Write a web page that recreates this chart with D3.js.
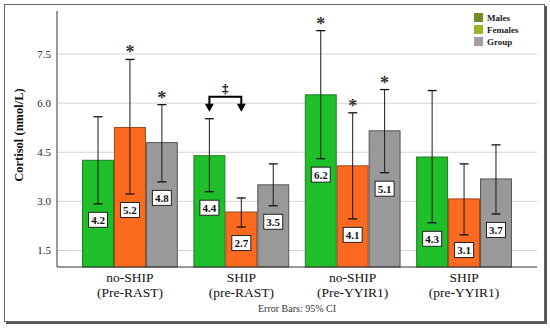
<!DOCTYPE html>
<html>
<head>
<meta charset="utf-8">
<script src="https://cdn.jsdelivr.net/npm/d3@7"></script>
<style>
  html, body { margin: 0; padding: 0; background: #fff; }
  svg { display: block; font-family: 'Liberation Serif', 'DejaVu Serif', serif; }
</style>
</head>
<body>
<div id="chart"></div>
<script>
const groupLine1 = ['no-SHIP', 'SHIP', 'no-SHIP', 'SHIP'];
const groupLine2 = ['(Pre-RAST)', '(pre-RAST)', '(Pre-YYIR1)', '(pre-YYIR1)'];
const series = ['Males', 'Females', 'Group'];

// means per series, one value per group
const malesMean = [4.24, 4.38, 6.24, 4.34];
const femalesMean = [5.24, 2.66, 4.07, 3.06];
const groupMean = [4.78, 3.49, 5.14, 3.67];

// 95% CI ends
const malesLo = [2.91, 3.28, 4.29, 2.33];
const malesHi = [5.57, 5.51, 8.2, 6.37];
const femalesLo = [3.21, 2.2, 2.45, 1.96];
const femalesHi = [7.32, 3.09, 5.69, 4.13];
const groupLo = [3.58, 2.85, 3.86, 2.6];
const groupHi = [5.94, 4.13, 6.4, 4.71];

// significance stars
const malesStar = [0, 0, 1, 0];
const femalesStar = [1, 0, 1, 0];
const groupStar = [1, 0, 1, 0];

const yTicks = [1.5, 3.0, 4.5, 6.0, 7.5];

// bracket between two bars of one group
const bracketGroup = 1;
const bracketFrom = 'Males';
const bracketTo = 'Females';
const bracketSymbol = '\u2021';

const barFill = { Males: '#1fbf2a', Females: '#fb6a1e', Group: '#999999' };
const barStroke = { Males: '#1d7d22', Females: '#a4461a', Group: '#555555' };
const legendFill = { Males: '#6f8b2b', Females: '#9bb52c', Group: '#a79ca6' };

const W = 550, H = 330;
const margin = { top: 11, right: 13, bottom: 63, left: 57 };
const width = W - margin.left - margin.right;
const height = H - margin.top - margin.bottom;

const means = [malesMean, femalesMean, groupMean];
const los = [malesLo, femalesLo, groupLo];
const his = [malesHi, femalesHi, groupHi];
const stars = [malesStar, femalesStar, groupStar];

const data = [];
groupLine1.forEach((g, gi) => {
  series.forEach((s, si) => {
    data.push({ gi, s, mean: means[si][gi], lo: los[si][gi], hi: his[si][gi], star: stars[si][gi] });
  });
});

const svg = d3.select('#chart').append('svg').attr('width', W).attr('height', H);

// outer frame with shadow
svg.append('rect').attr('x', 6).attr('y', 6).attr('width', 541).attr('height', 318).attr('fill', '#555');
svg.append('rect').attr('x', 4.5).attr('y', 4.5).attr('width', 540).attr('height', 317)
  .attr('fill', '#fff').attr('stroke', '#666').attr('stroke-width', 1);

const g = svg.append('g').attr('transform', `translate(${margin.left},${margin.top})`);

const x0 = d3.scaleBand().domain(d3.range(groupLine1.length)).range([0, width])
  .paddingInner(0.14).paddingOuter(0.225);
const x1 = d3.scaleBand().domain(series).range([0, x0.bandwidth()]).padding(0);
const y = d3.scaleLinear().domain([0.98, 8.8]).range([height, 0]);

// gridlines
g.append('g')
  .call(d3.axisLeft(y).tickValues(yTicks).tickSize(-width).tickFormat(''))
  .call(a => a.select('.domain').remove())
  .call(a => a.selectAll('line').attr('stroke', '#d4d4d4'));

// bars
const bars = g.selectAll('.bar').data(data).enter().append('g')
  .attr('transform', d => `translate(${x0(d.gi) + x1(d.s)},0)`);
bars.append('rect')
  .attr('x', 0.5).attr('y', d => y(d.mean))
  .attr('width', x1.bandwidth() - 1).attr('height', d => height - y(d.mean))
  .attr('fill', d => barFill[d.s]).attr('stroke', d => barStroke[d.s]).attr('stroke-width', 1);

const cx = x1.bandwidth() / 2;
// error bars
bars.append('line').attr('x1', cx).attr('x2', cx).attr('y1', d => y(d.lo)).attr('y2', d => y(d.hi))
  .attr('stroke', '#1a1a1a').attr('stroke-width', 1);
bars.append('line').attr('x1', cx - 4.5).attr('x2', cx + 4.5).attr('y1', d => y(d.lo)).attr('y2', d => y(d.lo))
  .attr('stroke', '#111').attr('stroke-width', 1.3);
bars.append('line').attr('x1', cx - 4.5).attr('x2', cx + 4.5).attr('y1', d => y(d.hi)).attr('y2', d => y(d.hi))
  .attr('stroke', '#111').attr('stroke-width', 1.3);

// stars
bars.filter(d => d.star).append('text')
  .attr('x', cx).attr('y', d => y(d.hi) - 1)
  .attr('text-anchor', 'middle').attr('font-size', 18).attr('font-weight', 'bold').attr('fill', '#333')
  .text('*');

// value labels
const labels = bars.append('g')
  .attr('transform', d => `translate(${cx},${Math.min(y(d.lo) + 16, height - 17)})`);
labels.append('rect').attr('x', -9.5).attr('y', -7.5).attr('width', 19).attr('height', 15)
  .attr('fill', '#fff').attr('stroke', '#222').attr('stroke-width', 1);
labels.append('text').attr('y', 4).attr('text-anchor', 'middle')
  .attr('font-size', 11).attr('font-weight', 'bold').attr('fill', '#111')
  .text(d => d.mean.toFixed(1));

// bracket
const bFrom = data.find(d => d.gi === bracketGroup && d.s === bracketFrom);
const bTo = data.find(d => d.gi === bracketGroup && d.s === bracketTo);
const bxa = x0(bracketGroup) + x1(bracketFrom) + cx;
const bxb = x0(bracketGroup) + x1(bracketTo) + cx;
const tipY = y(Math.max(bFrom.hi, bTo.hi)) - 7;
const topY = tipY - 15;
const br = g.append('g');
br.append('path')
  .attr('d', `M${bxa},${tipY - 7}V${topY}H${bxb}V${tipY - 7}`)
  .attr('fill', 'none').attr('stroke', '#000').attr('stroke-width', 2);
[bxa, bxb].forEach(bx => {
  br.append('path').attr('d', `M${bx - 4.5},${tipY - 8}L${bx + 4.5},${tipY - 8}L${bx},${tipY}Z`).attr('fill', '#000');
});
br.append('text').attr('x', (bxa + bxb) / 2).attr('y', topY - 4)
  .attr('text-anchor', 'middle').attr('font-size', 13).attr('font-weight', 'bold').text(bracketSymbol);

// axes
g.append('g')
  .call(d3.axisLeft(y).tickValues(yTicks).tickSize(0).tickPadding(6).tickFormat(d3.format('.1f')))
  .call(a => a.select('.domain').remove())
  .call(a => a.selectAll('text').attr('font-family', 'Liberation Serif').attr('font-size', 11).attr('fill', '#222'));
g.append('line').attr('x1', 0).attr('x2', 0).attr('y1', 0).attr('y2', height).attr('stroke', '#333');
g.append('line').attr('x1', 0).attr('x2', width).attr('y1', height).attr('y2', height).attr('stroke', '#333');

// x labels
const xl = g.append('g').selectAll('text').data(groupLine1).enter().append('text')
  .attr('x', (d, i) => x0(i) + x0.bandwidth() / 2)
  .attr('y', height + 15)
  .attr('text-anchor', 'middle').attr('font-size', 13.5).attr('fill', '#111');
xl.append('tspan').text(d => d);
xl.append('tspan').attr('x', (d, i) => x0(i) + x0.bandwidth() / 2).attr('dy', 15).text((d, i) => groupLine2[i]);

g.append('text').attr('x', width / 2).attr('y', height + 45)
  .attr('text-anchor', 'middle').attr('font-size', 10).attr('fill', '#333').text('Error Bars: 95% CI');

// y title
g.append('text').attr('transform', `translate(-34,${124}) rotate(-90)`)
  .attr('text-anchor', 'middle').attr('font-size', 12.5).attr('font-weight', 'bold').attr('fill', '#111')
  .text('Cortisol (nmol/L)');

// legend
const lg = svg.append('g').attr('transform', 'translate(474,13)');
const li = lg.selectAll('g').data(series).enter().append('g')
  .attr('transform', (d, i) => `translate(0,${i * 12})`);
li.append('rect').attr('width', 9).attr('height', 9).attr('fill', d => legendFill[d]);
li.append('text').attr('x', 13).attr('y', 8).attr('font-size', 9).attr('font-weight', 'bold')
  .attr('fill', '#222').text(d => d);
</script>
</body>
</html>
